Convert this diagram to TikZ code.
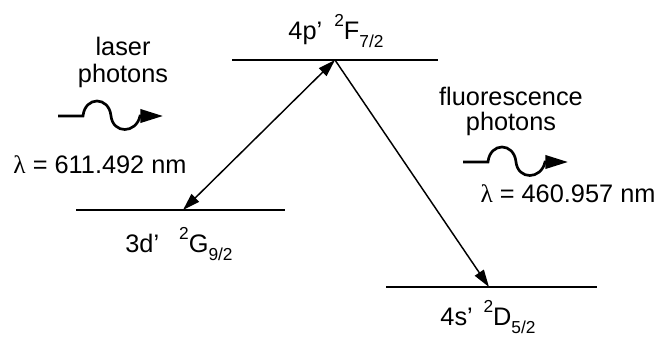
\documentclass[tikz,border=0pt]{standalone}
\usepackage{fontspec}
\setmainfont{Liberation Sans}
\newfontfamily\grk{Liberation Serif}
\usetikzlibrary{arrows.meta}
\newcommand{\lvlab}[4]{#1\hspace{#4}\raisebox{0.5em}{\fontsize{13}{13}\selectfont 2}#2\raisebox{-0.35em}{\fontsize{13}{13}\selectfont #3}}
\tikzset{
  txt/.style={font=\fontsize{19}{22}\selectfont, inner sep=0pt, anchor=base},
  level/.style={line width=1.3pt},
  trans/.style={line width=1.1pt},
  tipA/.tip={Triangle[length=13pt,width=8pt]},
  wave/.style={line width=2pt, -{Triangle[length=17pt,width=10pt]}},
}
\begin{document}
\begin{tikzpicture}[x=0.75pt,y=-0.75pt]
\useasboundingbox (0,0) rectangle (661,337);
% levels
\coordinate (pL) at (232,60); \coordinate (pR) at (438,60);
\coordinate (dL) at (76,210); \coordinate (dR) at (285,210);
\coordinate (sL) at (386,287); \coordinate (sR) at (597,287);
\draw[level] (pL) -- (pR);
\draw[level] (dL) -- (dR);
\draw[level] (sL) -- (sR);
% transitions
\coordinate (top) at (335,60);
\coordinate (tipD) at (183,210);
\coordinate (tipS) at (489,287);
\draw[trans, tipA-tipA] (tipD) -- (top);
\draw[trans, -tipA] (top) -- (tipS);
% level labels
\node[txt] (labP) at (336,39) {\lvlab{4p'}{F}{7/2}{9pt}};
\node[txt] (labD) at (179,252) {\lvlab{3d'}{G}{9/2}{15pt}};
\node[txt] (labS) at (488,325) {\lvlab{4s'}{D}{5/2}{8pt}};
% laser photons
\node[txt] (laser) at (123,55) {laser};
\node[txt] (lphot) at (123,82) {photons};
\coordinate (w1a) at (58,116); \coordinate (w1b) at (83,116);
\coordinate (w1c) at (111,116); \coordinate (w1d) at (140,116);
\coordinate (w1e) at (163,116);
\draw[wave] (w1a) -- (w1b) .. controls (85,96) and (109,96) .. (w1c)
  .. controls (113,134) and (136,134) .. (w1d) -- (w1e);
\node[txt] (lam1) at (100,173) {{\grk λ} = 611.492 nm};
% fluorescence photons
\node[txt] (fluo) at (511,105) {fluorescence};
\node[txt] (fphot) at (511,130) {photons};
\coordinate (w2a) at (463,162); \coordinate (w2b) at (488,162);
\coordinate (w2c) at (516,162); \coordinate (w2d) at (545,162);
\coordinate (w2e) at (568,162);
\draw[wave] (w2a) -- (w2b) .. controls (490,142) and (514,142) .. (w2c)
  .. controls (518,180) and (541,180) .. (w2d) -- (w2e);
\node[txt] (lam2) at (568,202) {{\grk λ} = 460.957 nm};
\end{tikzpicture}
\end{document}
